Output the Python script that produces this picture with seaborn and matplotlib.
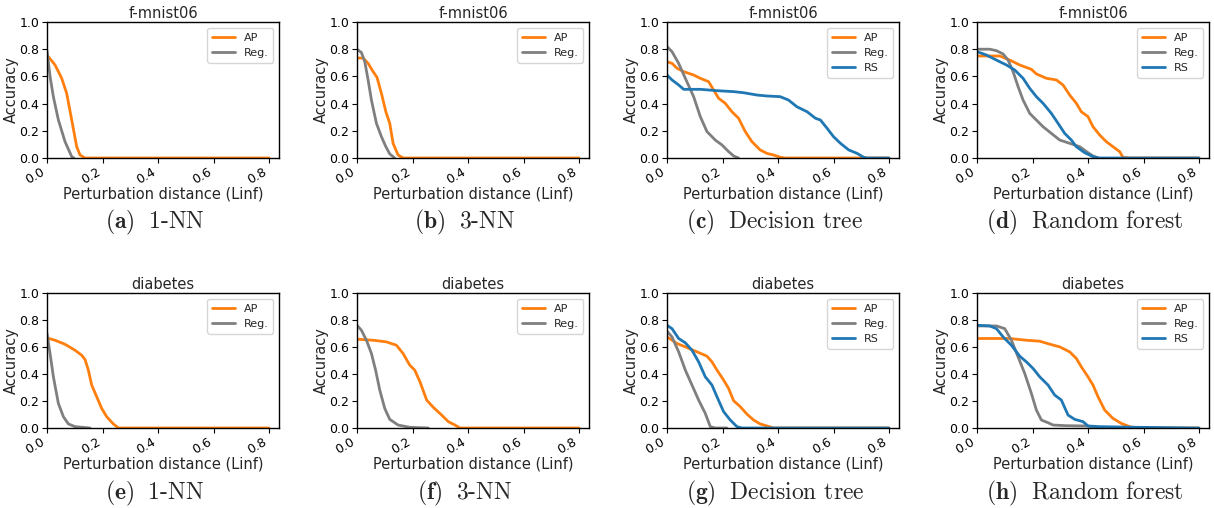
import numpy as np
import pandas as pd
import matplotlib
matplotlib.use("Agg")
import matplotlib.pyplot as plt
import seaborn as sns

sns.set_theme(style="ticks", rc={"axes.linewidth": 1.0})
plt.rcParams["font.family"] = ["DejaVu Sans"]
plt.rcParams["mathtext.fontset"] = "cm"

# ---------------- data ----------------
titles = ["f-mnist06"] * 4 + ["diabetes"] * 4
captions = [("a", "1-NN"), ("b", "3-NN"), ("c", "Decision tree"), ("d", "Random forest"),
            ("e", "1-NN"), ("f", "3-NN"), ("g", "Decision tree"), ("h", "Random forest")]
xticks = [0.0, 0.2, 0.4, 0.6, 0.8]
xtick_labels = ["0.0", "0.2", "0.4", "0.6", "0.8"]
yticks = [0.0, 0.2, 0.4, 0.6, 0.8, 1.0]

# (a) f-mnist06 1-NN
a_ap_x = [0, 0.029, 0.053, 0.071, 0.089, 0.107, 0.119, 0.137, 0.8]
a_ap_y = [0.757, 0.684, 0.586, 0.475, 0.28, 0.083, 0.022, 0.0, 0.0]
a_reg_x = [0, 0.011, 0.023, 0.041, 0.065, 0.089, 0.097]
a_reg_y = [0.79, 0.6, 0.45, 0.28, 0.12, 0.01, 0.0]

# (b) f-mnist06 3-NN
b_ap_x = [0, 0.022, 0.04, 0.058, 0.072, 0.088, 0.104, 0.118, 0.13, 0.148, 0.166, 0.8]
b_ap_y = [0.735, 0.735, 0.696, 0.635, 0.593, 0.475, 0.34, 0.255, 0.108, 0.022, 0.0, 0.0]
b_reg_x = [0, 0.016, 0.028, 0.04, 0.052, 0.07, 0.088, 0.104, 0.118, 0.136]
b_reg_y = [0.8, 0.775, 0.708, 0.574, 0.426, 0.255, 0.157, 0.083, 0.03, 0.0]

# (c) f-mnist06 decision tree
c_ap_x = [0, 0.018, 0.036, 0.06, 0.096, 0.12, 0.15, 0.168, 0.186, 0.21, 0.234, 0.258,
          0.282, 0.306, 0.336, 0.36, 0.384, 0.408, 0.426, 0.8]
c_ap_y = [0.708, 0.696, 0.66, 0.635, 0.61, 0.586, 0.561, 0.5, 0.439, 0.402, 0.34, 0.292,
          0.194, 0.12, 0.059, 0.034, 0.022, 0.005, 0.0, 0.0]
c_reg_x = [0, 0.018, 0.042, 0.066, 0.096, 0.12, 0.144, 0.174, 0.198, 0.222, 0.24, 0.258]
c_reg_y = [0.819, 0.782, 0.696, 0.586, 0.451, 0.304, 0.194, 0.132, 0.096, 0.047, 0.015, 0.0]
c_rs_x = [0, 0.018, 0.042, 0.06, 0.12, 0.18, 0.24, 0.276, 0.324, 0.36, 0.408, 0.438, 0.468,
          0.505, 0.535, 0.553, 0.577, 0.6, 0.625, 0.655, 0.685, 0.709, 0.72, 0.8]
c_rs_y = [0.61, 0.574, 0.537, 0.505, 0.505, 0.495, 0.488, 0.48, 0.463, 0.456, 0.451, 0.426,
          0.377, 0.34, 0.292, 0.279, 0.218, 0.157, 0.108, 0.059, 0.034, 0.005, 0.0, 0.0]

# (d) f-mnist06 random forest
d_ap_x = [0, 0.082, 0.118, 0.154, 0.196, 0.214, 0.25, 0.286, 0.31, 0.334, 0.358, 0.376, 0.4,
          0.418, 0.442, 0.466, 0.49, 0.514, 0.526, 0.55, 0.8]
d_ap_y = [0.75, 0.75, 0.72, 0.684, 0.652, 0.618, 0.586, 0.574, 0.537, 0.463, 0.402, 0.34,
          0.304, 0.23, 0.169, 0.12, 0.083, 0.047, 0.005, 0.0, 0.0]
d_reg_x = [0, 0.046, 0.07, 0.094, 0.112, 0.13, 0.148, 0.166, 0.19, 0.214, 0.238, 0.268,
           0.298, 0.334, 0.37, 0.4, 0.418, 0.436]
d_reg_y = [0.8, 0.8, 0.789, 0.765, 0.72, 0.635, 0.525, 0.426, 0.328, 0.279, 0.23, 0.181,
           0.132, 0.108, 0.083, 0.039, 0.015, 0.0]
d_rs_x = [0, 0.034, 0.07, 0.106, 0.136, 0.166, 0.19, 0.214, 0.238, 0.268, 0.292, 0.316,
          0.34, 0.358, 0.388, 0.418, 0.442, 0.8]
d_rs_y = [0.782, 0.757, 0.72, 0.684, 0.647, 0.586, 0.512, 0.451, 0.402, 0.328, 0.255, 0.181,
          0.132, 0.083, 0.039, 0.01, 0.0, 0.0]

# (e) diabetes 1-NN
e_ap_x = [0, 0.029, 0.065, 0.101, 0.125, 0.137, 0.149, 0.161, 0.179, 0.197, 0.215, 0.239,
          0.258, 0.8]
e_ap_y = [0.667, 0.65, 0.62, 0.576, 0.539, 0.507, 0.429, 0.318, 0.232, 0.145, 0.084, 0.03,
          0.0, 0.0]
e_reg_x = [0, 0.011, 0.023, 0.041, 0.059, 0.077, 0.101, 0.155]
e_reg_y = [0.7, 0.552, 0.379, 0.182, 0.084, 0.03, 0.01, 0.0]

# (f) diabetes 3-NN
f_ap_x = [0, 0.058, 0.106, 0.142, 0.166, 0.19, 0.208, 0.227, 0.251, 0.275, 0.305, 0.329,
          0.353, 0.371, 0.8]
f_ap_y = [0.658, 0.65, 0.638, 0.613, 0.552, 0.466, 0.429, 0.342, 0.207, 0.153, 0.096, 0.047,
          0.022, 0.0, 0.0]
f_reg_x = [0, 0.016, 0.034, 0.052, 0.067, 0.082, 0.1, 0.118, 0.148, 0.19, 0.257]
f_reg_y = [0.761, 0.724, 0.65, 0.552, 0.429, 0.281, 0.145, 0.064, 0.022, 0.005, 0.0]

# (g) diabetes decision tree
g_ap_x = [0, 0.036, 0.072, 0.108, 0.144, 0.162, 0.18, 0.204, 0.222, 0.24, 0.264, 0.288,
          0.312, 0.336, 0.36, 0.384, 0.8]
g_ap_y = [0.675, 0.626, 0.596, 0.564, 0.532, 0.49, 0.429, 0.355, 0.293, 0.202, 0.158, 0.103,
          0.059, 0.03, 0.015, 0.0, 0.0]
g_reg_x = [0, 0.018, 0.042, 0.066, 0.09, 0.114, 0.138, 0.156, 0.174, 0.216]
g_reg_y = [0.717, 0.675, 0.564, 0.429, 0.318, 0.207, 0.108, 0.01, 0.0, 0.0]
g_rs_x = [0, 0.018, 0.042, 0.066, 0.09, 0.114, 0.138, 0.162, 0.18, 0.204, 0.228, 0.252,
          0.27, 0.8]
g_rs_y = [0.761, 0.736, 0.663, 0.631, 0.576, 0.49, 0.379, 0.318, 0.232, 0.121, 0.059, 0.01,
          0.0, 0.0]

# (h) diabetes random forest
h_ap_x = [0, 0.118, 0.178, 0.226, 0.262, 0.298, 0.334, 0.358, 0.376, 0.4, 0.418, 0.436,
          0.46, 0.49, 0.52, 0.55, 0.574, 0.8]
h_ap_y = [0.663, 0.663, 0.65, 0.643, 0.621, 0.601, 0.564, 0.515, 0.453, 0.379, 0.318, 0.232,
          0.133, 0.071, 0.034, 0.01, 0.0, 0.0]
h_reg_x = [0, 0.07, 0.1, 0.124, 0.148, 0.172, 0.196, 0.214, 0.232, 0.256, 0.274, 0.322,
           0.394, 0.418, 0.442]
h_reg_y = [0.756, 0.756, 0.736, 0.65, 0.527, 0.404, 0.256, 0.133, 0.059, 0.039, 0.022, 0.017,
           0.015, 0.01, 0.0]
h_rs_x = [0, 0.046, 0.07, 0.094, 0.124, 0.154, 0.178, 0.202, 0.226, 0.256, 0.28, 0.304,
          0.328, 0.352, 0.382, 0.4, 0.442, 0.586, 0.8]
h_rs_y = [0.761, 0.756, 0.736, 0.675, 0.613, 0.532, 0.49, 0.441, 0.379, 0.318, 0.244, 0.207,
          0.096, 0.064, 0.047, 0.015, 0.01, 0.005, 0.0]

panels = [
    [("AP", a_ap_x, a_ap_y), ("Reg.", a_reg_x, a_reg_y)],
    [("AP", b_ap_x, b_ap_y), ("Reg.", b_reg_x, b_reg_y)],
    [("AP", c_ap_x, c_ap_y), ("Reg.", c_reg_x, c_reg_y), ("RS", c_rs_x, c_rs_y)],
    [("AP", d_ap_x, d_ap_y), ("Reg.", d_reg_x, d_reg_y), ("RS", d_rs_x, d_rs_y)],
    [("AP", e_ap_x, e_ap_y), ("Reg.", e_reg_x, e_reg_y)],
    [("AP", f_ap_x, f_ap_y), ("Reg.", f_reg_x, f_reg_y)],
    [("AP", g_ap_x, g_ap_y), ("Reg.", g_reg_x, g_reg_y), ("RS", g_rs_x, g_rs_y)],
    [("AP", h_ap_x, h_ap_y), ("Reg.", h_reg_x, h_reg_y), ("RS", h_rs_x, h_rs_y)],
]
colors = {"AP": "#ff7f0e", "Reg.": "#7f7f7f", "RS": "#1f77b4"}

# ---------------- figure ----------------
W, H = 1214, 508
fig = plt.figure(figsize=(W / 100, H / 100), dpi=100)
lefts = [47, 357, 667, 977]
aw = 232
rows = [(22, 158), (293, 428)]

for i, series in enumerate(panels):
    r, c = divmod(i, 4)
    top, bot = rows[r]
    ax = fig.add_axes([lefts[c] / W, 1 - bot / H, aw / W, (bot - top) / H])
    for name, xs, ys in series:
        df = pd.DataFrame({"x": xs, "y": ys})
        sns.lineplot(data=df, x="x", y="y", ax=ax, color=colors[name], linewidth=2.0,
                     label=name, estimator=None, sort=False)
    ax.set_xlim(0, 0.836)
    ax.set_ylim(0, 1.0)
    ax.set_xticks(xticks)
    ax.set_xticklabels(xtick_labels, rotation=30, ha="right", rotation_mode="default")
    ax.set_yticks(yticks)
    ax.tick_params(axis="both", labelsize=9, length=3.5, width=0.8, pad=2, colors="black")
    for s in ax.spines.values():
        s.set_color("black")
        s.set_linewidth(1.0)
    ax.set_title(titles[i], fontsize=10.5, pad=3)
    ax.set_xlabel("Perturbation distance (Linf)", fontsize=10.5, labelpad=0)
    ax.set_ylabel("Accuracy", fontsize=10.5, labelpad=0)
    ax.legend(loc="upper right", fontsize=8, frameon=True, handlelength=2.0,
              borderpad=0.45, labelspacing=0.45, handletextpad=0.8)
    letter, name = captions[i]
    cy = 222 if r == 0 else 493
    cx = lefts[c] + aw / 2 - 8
    fig.text(cx / W, 1 - cy / H, r"$\mathbf{(%s)}\;$ %s" % (letter, name),
             family="cmr10", fontsize=17, ha="center", va="center")

fig.savefig("out.png", dpi=100, facecolor="white")
